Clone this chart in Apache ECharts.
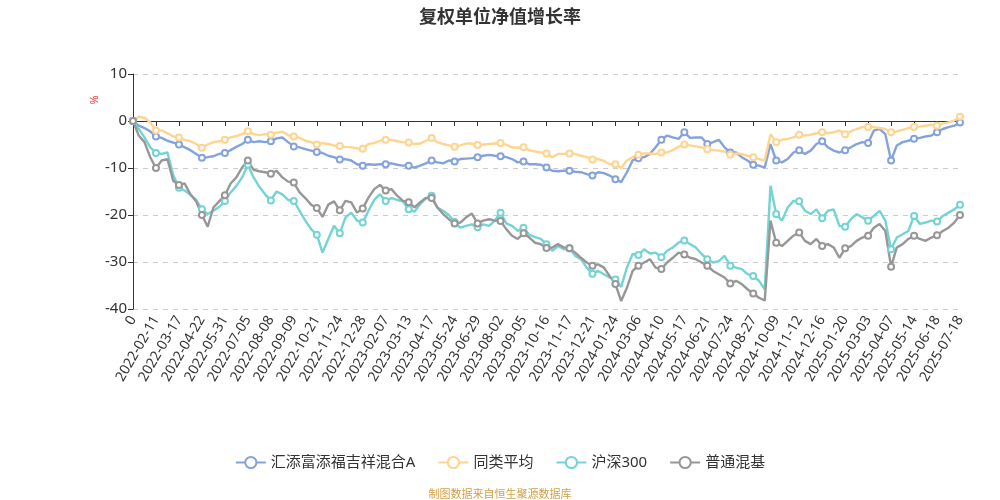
<!DOCTYPE html>
<html>
<head>
<meta charset="utf-8">
<title>复权单位净值增长率</title>
<script src="https://cdn.jsdelivr.net/npm/echarts@6/dist/echarts.min.js"></script>
<style>
  html, body { margin: 0; padding: 0; background: #fff; }
  #main { width: 1000px; height: 500px; }
</style>
</head>
<body>
<div id="main"></div>
<script>
// x 轴刻度标签（每个标签之间读取 4 段）
var tickLabels = ['0',
    '2022-02-11', '2022-03-17', '2022-04-22', '2022-05-31', '2022-07-05', '2022-08-08',
    '2022-09-09', '2022-10-21', '2022-11-24', '2022-12-28', '2023-02-07', '2023-03-13',
    '2023-04-17', '2023-05-24', '2023-06-29', '2023-08-02', '2023-09-05', '2023-10-16',
    '2023-11-17', '2023-12-21', '2024-01-24', '2024-03-06', '2024-04-10', '2024-05-17',
    '2024-06-21', '2024-07-24', '2024-08-27', '2024-10-09', '2024-11-12', '2024-12-16',
    '2025-01-20', '2025-03-03', '2025-04-07', '2025-05-14', '2025-06-18', '2025-07-18'];
var stepsPerTick = 4;

var seriesNames = ['汇添富添福吉祥混合A', '同类平均', '沪深300', '普通混基'];
var seriesColors = ['#84a3dc', '#ffd48f', '#74d3d3', '#979797'];

// 汇添富添福吉祥混合A
var fundValues = [0,
    -1.0, -1.5, -2.2, -3.3,   -3.6, -4.2, -4.6, -5.0,   -5.6, -6.2, -7.0, -7.8,
    -7.7, -7.5, -7.0, -6.8,   -6.2, -5.5, -4.9, -4.0,   -4.5, -4.3, -4.5, -4.3,
    -3.7, -3.5, -4.5, -5.4,   -5.6, -6.0, -6.3, -6.6,   -6.8, -7.4, -7.7, -8.2,
    -8.1, -8.4, -9.2, -9.5,   -9.2, -9.3, -9.2, -9.2,   -9.0, -9.3, -9.5, -9.5,
    -9.9, -9.5, -9.0, -8.4,   -8.8, -9.0, -8.4, -8.6,   -8.1, -8.0, -7.9, -7.7,
    -7.4, -7.2, -7.4, -7.5,   -7.7, -8.1, -8.8, -8.6,   -9.2, -9.2, -9.3, -9.9,
    -10.6, -10.7, -10.6, -10.6,   -10.8, -10.9, -11.3, -11.6,   -10.9, -11.1, -11.6, -12.4,
    -13.0, -10.9, -8.4, -7.9,   -7.7, -7.0, -5.6, -4.0,   -3.1, -3.5, -3.8, -2.4,
    -3.6, -3.5, -3.5, -4.9,   -4.5, -4.0, -5.6, -6.7,   -6.7, -7.7, -8.4, -9.3,
    -9.5, -9.9, -4.9, -8.4,   -8.8, -8.1, -6.7, -6.2,   -7.0, -6.3, -4.9, -4.3,
    -5.6, -6.3, -6.7, -6.2,   -5.6, -4.9, -4.5, -4.7,   -2.0, -1.7, -2.8, -8.4,
    -5.2, -4.5, -4.2, -3.8,   -3.6, -3.3, -3.1, -2.4,   -1.7, -1.3, -1.0, -0.3];

// 同类平均
var peerValues = [0,
    0.9, 0.7, -0.3, -2.0,   -2.0, -2.6, -3.3, -3.5,   -4.0, -4.3, -4.9, -5.7,
    -5.0, -4.5, -4.3, -4.0,   -3.5, -3.2, -2.8, -2.2,   -2.8, -3.0, -2.8, -2.9,
    -2.5, -2.3, -3.0, -3.3,   -3.6, -4.2, -4.5, -5.0,   -4.7, -4.9, -5.2, -5.3,
    -5.5, -5.6, -5.8, -5.9,   -4.9, -4.7, -4.2, -4.0,   -4.0, -4.3, -4.5, -4.6,
    -4.9, -4.8, -4.2, -3.6,   -4.5, -4.9, -5.2, -5.5,   -5.2, -4.8, -4.8, -5.1,
    -5.0, -4.9, -4.8, -4.7,   -5.1, -5.6, -5.7, -5.6,   -6.2, -6.5, -6.7, -6.9,
    -7.7, -7.0, -7.0, -6.9,   -7.0, -7.4, -7.7, -8.2,   -8.1, -8.5, -9.2, -9.2,
    -10.0, -8.4, -7.7, -7.2,   -6.9, -6.9, -7.0, -6.7,   -6.7, -6.2, -5.5, -5.0,
    -5.2, -5.4, -5.6, -6.0,   -6.2, -6.3, -6.5, -7.2,   -6.9, -7.0, -7.4, -7.7,
    -8.1, -8.4, -2.8, -4.5,   -4.0, -3.8, -3.5, -2.9,   -3.1, -2.9, -2.6, -2.4,
    -2.6, -2.4, -2.0, -2.8,   -2.2, -1.7, -1.3, -1.3,   -1.3, -1.5, -1.7, -2.4,
    -2.2, -1.9, -1.5, -1.3,   -1.2, -1.0, -0.8, -1.0,   -0.5, -0.3, 0.1, 0.9];

// 沪深300
var hs300Values = [0,
    -1.7, -3.5, -5.6, -6.8,   -7.0, -6.7, -11.5, -14.2,   -14.8, -15.7, -16.8, -18.8,
    -19.8, -19.1, -18.3, -17.0,   -15.2, -13.8, -12.0, -9.3,   -12.0, -14.0, -15.6, -16.9,
    -15.0, -15.6, -16.8, -17.0,   -19.1, -21.2, -23.0, -24.2,   -28.0, -25.1, -22.3, -23.9,
    -20.5, -19.5, -21.2, -21.6,   -19.1, -16.8, -15.6, -17.0,   -16.4, -16.8, -17.1, -18.8,
    -19.3, -17.7, -16.4, -15.9,   -18.4, -19.1, -20.0, -21.5,   -22.7, -22.3, -22.0, -22.6,
    -22.0, -22.3, -21.2, -19.5,   -21.8, -22.3, -23.4, -22.7,   -24.2, -24.7, -25.1, -26.2,
    -27.6, -26.6, -27.3, -27.1,   -28.7, -29.4, -31.2, -32.5,   -31.9, -32.6, -33.3, -33.7,
    -35.3, -31.2, -28.3, -28.5,   -27.3, -28.2, -28.0, -29.0,   -27.6, -26.9, -25.9, -25.4,
    -26.2, -26.9, -28.3, -29.4,   -30.1, -29.8, -28.7, -30.8,   -31.2, -31.5, -32.6, -33.0,
    -34.0, -35.8, -13.8, -19.8,   -21.2, -18.4, -17.0, -17.1,   -19.1, -19.8, -18.8, -20.7,
    -19.1, -18.8, -22.3, -22.5,   -20.9, -19.8, -20.5, -21.2,   -20.2, -19.1, -21.2, -27.3,
    -24.8, -24.1, -23.4, -20.2,   -21.9, -21.6, -21.2, -21.4,   -20.2, -19.5, -18.8, -17.8];

// 普通混基
var mixedValues = [0,
    -3.1, -4.5, -7.7, -10.0,   -8.4, -8.1, -12.7, -13.6,   -13.3, -15.6, -17.1, -20.0,
    -22.5, -18.4, -17.1, -15.8,   -13.3, -12.0, -9.9, -8.4,   -10.4, -10.7, -10.9, -11.2,
    -10.6, -12.0, -12.9, -13.1,   -15.2, -16.4, -17.8, -18.5,   -20.4, -17.8, -17.1, -19.0,
    -17.0, -17.3, -19.5, -18.6,   -16.3, -14.5, -13.6, -14.8,   -14.5, -15.9, -17.0, -17.3,
    -18.4, -17.3, -16.4, -16.4,   -18.4, -19.8, -20.9, -21.8,   -21.6, -20.5, -19.7, -21.8,
    -21.2, -20.9, -21.2, -21.3,   -23.0, -24.4, -25.1, -23.9,   -24.8, -25.9, -26.2, -27.0,
    -26.9, -26.2, -26.9, -27.1,   -28.0, -29.1, -30.1, -30.8,   -30.5, -31.2, -33.0, -34.7,
    -38.3, -35.5, -31.9, -30.8,   -30.1, -29.4, -31.2, -31.5,   -30.1, -29.1, -28.0, -28.4,
    -29.1, -29.4, -30.1, -30.8,   -31.9, -32.6, -33.3, -34.6,   -34.0, -34.7, -35.8, -36.7,
    -37.6, -38.2, -21.2, -25.9,   -26.6, -25.5, -24.4, -23.7,   -25.5, -26.2, -25.1, -26.6,
    -26.2, -26.9, -29.1, -27.1,   -26.6, -25.5, -24.8, -24.4,   -22.7, -21.9, -23.4, -31.0,
    -26.9, -26.2, -25.1, -24.4,   -25.1, -25.5, -24.8, -24.3,   -23.4, -22.7, -21.6, -20.0];

var allValues = [fundValues, peerValues, hs300Values, mixedValues];

// 类目：每个刻度标签后补空白类目
var categories = [];
for (var i = 0; i < tickLabels.length; i++) {
    categories.push(tickLabels[i]);
    if (i < tickLabels.length - 1) {
        for (var s = 1; s < stepsPerTick; s++) {
            categories.push('');
        }
    }
}

var fontFamily = '"Noto Sans", "Noto Sans CJK SC", sans-serif';
var myChart = echarts.init(document.getElementById('main'));

var series = seriesNames.map(function (name, idx) {
    return {
        name: name,
        type: 'line',
        data: allValues[idx],
        symbol: 'emptyCircle',
        symbolSize: 6,
        showAllSymbol: 'auto',
        itemStyle: { color: seriesColors[idx], borderWidth: 1 },
        lineStyle: { color: seriesColors[idx], width: 2.4 },
        emphasis: { disabled: true }
    };
});

var option = {
    animation: false,
    backgroundColor: '#fff',
    title: [{
        text: '复权单位净值增长率',
        left: 'center',
        top: 4,
        textStyle: { fontSize: 18, fontWeight: 'bold', color: '#333', fontFamily: fontFamily }
    }, {
        text: '制图数据来自恒生聚源数据库',
        left: 'center',
        top: 484,
        textStyle: { fontSize: 11, fontWeight: 'normal', color: '#d4a046', fontFamily: fontFamily }
    }],
    legend: {
        data: seriesNames,
        left: 'center',
        top: 450,
        itemWidth: 30,
        itemHeight: 14,
        itemGap: 22,
        textStyle: { fontSize: 15, color: '#333', fontFamily: fontFamily }
    },
    graphic: [{
        type: 'text',
        x: 95,
        y: 100,
        rotation: Math.PI / 2,
        style: {
            text: '%',
            fill: '#e84545',
            fontSize: 11,
            fontFamily: fontFamily,
            align: 'center',
            verticalAlign: 'middle'
        }
    }],
    grid: {
        left: 133,
        right: 40,
        top: 74,
        bottom: 191,
        containLabel: false,
        outerBoundsMode: 'none'
    },
    xAxis: {
        type: 'category',
        data: categories,
        boundaryGap: false,
        axisLine: { show: true, onZero: true, lineStyle: { color: '#333', width: 1 } },
        axisTick: { show: true, interval: stepsPerTick - 1, length: 5, lineStyle: { color: '#333' } },
        axisLabel: {
            interval: stepsPerTick - 1,
            rotate: 60,
            fontSize: 14,
            color: '#333',
            fontFamily: fontFamily,
            margin: 8
        },
        splitLine: { show: false }
    },
    yAxis: {
        type: 'value',
        min: -40,
        max: 10,
        interval: 10,
        axisLine: { show: true, lineStyle: { color: '#333', width: 1 } },
        axisTick: { show: true, length: 5, lineStyle: { color: '#333' } },
        axisLabel: { fontSize: 15, color: '#333', fontFamily: fontFamily, margin: 6 },
        splitLine: { show: true, lineStyle: { color: '#cccccc', type: [5, 5], width: 1 } }
    },
    series: series
};

myChart.setOption(option);
</script>
</body>
</html>
